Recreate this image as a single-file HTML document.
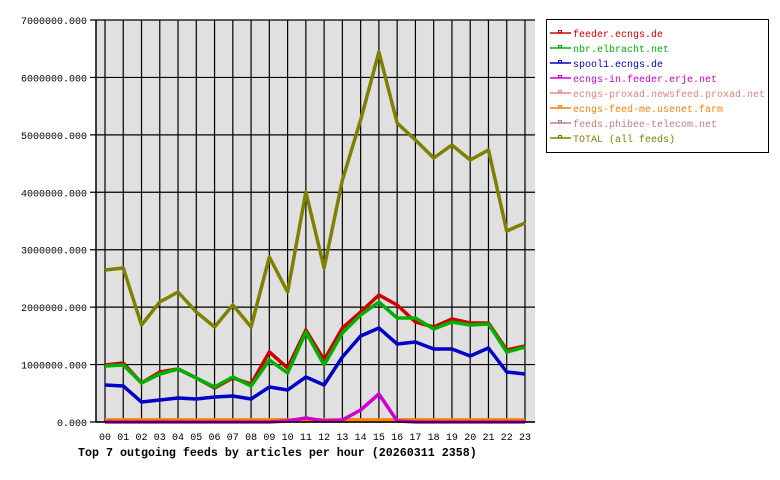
<!DOCTYPE html>
<html><head><meta charset="utf-8"><style>body{margin:0;background:#fff}svg{display:block}text{font-family:"Liberation Mono",monospace;font-size:10px}</style></head><body>
<svg width="780" height="480" xmlns="http://www.w3.org/2000/svg">
<rect x="96" y="20" width="439" height="402" fill="#e0e0e0"/>
<g stroke="#000" stroke-width="1.2" id="grid"></g>
<g id="series" fill="none" stroke-width="3.5" stroke-linejoin="round"></g>
<g id="labels"></g>
<line x1="96" y1="20" x2="96" y2="422" stroke="#000" stroke-width="1.5"/>
<line x1="96" y1="422" x2="535" y2="422" stroke="#000" stroke-width="1.5"/>
<text x="78" y="456" style="font-weight:bold;font-size:11.67px">Top 7 outgoing feeds by articles per hour (20260311 2358)</text>
<rect x="546.5" y="19.5" width="222" height="133" fill="#fff" stroke="#000"/>
<g id="legend"></g>
</svg>
<script>
const ns="http://www.w3.org/2000/svg";
function el(p,t,a,txt){const e=document.createElementNS(ns,t);for(const k in a)e.setAttribute(k,a[k]);if(txt!=null)e.textContent=txt;p.appendChild(e);return e;}
const g=document.getElementById('grid'),lab=document.getElementById('labels'),ser=document.getElementById('series'),leg=document.getElementById('legend');
const X=i=>105+i*18.26;
for(let i=0;i<24;i++){el(g,'line',{x1:X(i),y1:20,x2:X(i),y2:422});el(lab,'text',{x:X(i),y:440,'text-anchor':'middle'},String(i).padStart(2,'0'));}
for(let k=0;k<=7;k++){const y=422-k*402/7;el(g,'line',{x1:90,y1:y,x2:535,y2:y});el(lab,'text',{x:87,y:y+4,'text-anchor':'end'},k*1000000+'.000');}
const S=[
['#f08080',Array(24).fill(420)],
['#c08080',Array(24).fill(421)],
['#ff8000',Array(24).fill(420)],
['#d000d0',[422,422,422,422,422,422,422,422,422,422,421,418,421,420,410,394,421,422,422,422,422,422,422,422]],
['#d00000',[365,363,383,372,369,378,388,378,384,352,368,330,360,328,312,295,305,322,327,319,323,323,350,346]],
['#00b000',[366,365,383,374,369,378,387,377,386,360,373,332,365,333,315,302,318,318,329,322,325,324,352,347]],
['#0000c8',[385,386,402,400,398,399,397,396,399,387,390,377,385,357,336,328,344,342,349,349,356,348,372,374]],
['#808000',[270,268,325,302,292,312,327,305,327,257,292,192,268,180,120,52,123,140,158,145,160,150,231,223]]];
S.forEach(([c,d])=>el(ser,'polyline',{stroke:c,points:d.map((y,i)=>X(i)+','+y).join(' ')}));
const L=[['feeder.ecngs.de','#d00000'],['nbr.elbracht.net','#00b000'],['spool1.ecngs.de','#0000c8'],['ecngs-in.feeder.erje.net','#d000d0'],['ecngs-proxad.newsfeed.proxad.net','#f08080'],['ecngs-feed-me.usenet.farm','#ff8000'],['feeds.phibee-telecom.net','#c08080'],['TOTAL (all feeds)','#808000']];
L.forEach(([t,c],i)=>{const y=33+i*15;el(leg,'line',{x1:550,y1:y,x2:571,y2:y,stroke:c,'stroke-width':1.5});el(leg,'rect',{x:558.5,y:y-2.5,width:3,height:2,fill:'none',stroke:c,'stroke-width':1});el(leg,'text',{x:573,y:y+4,fill:c},t);});
</script>
</body></html>
